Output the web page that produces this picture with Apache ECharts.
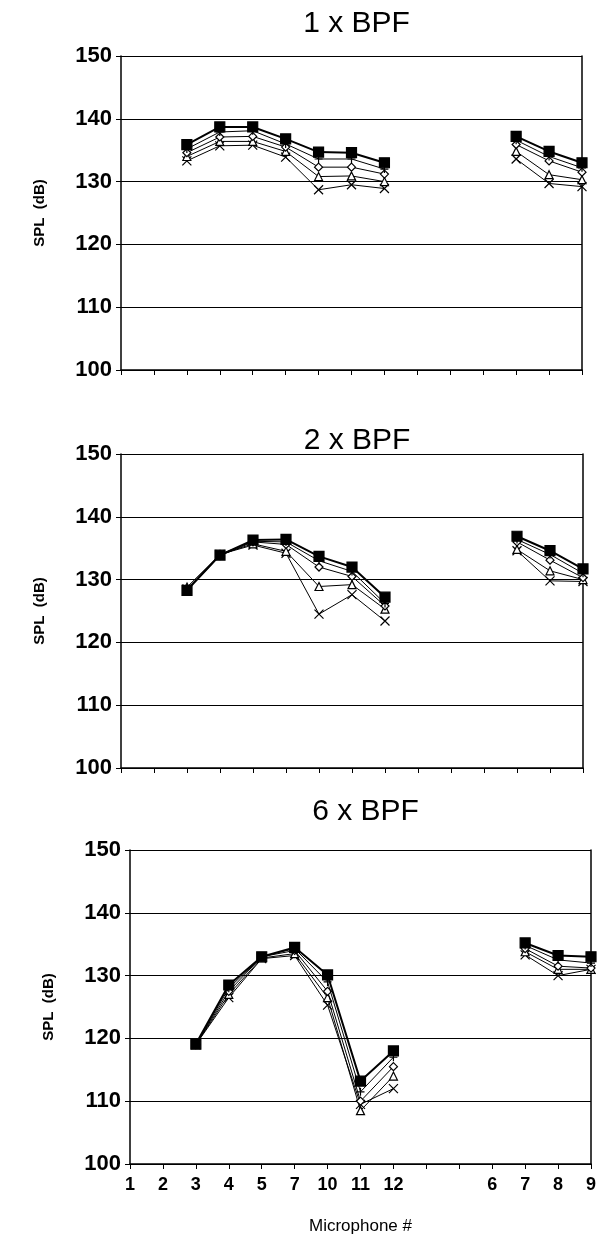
<!DOCTYPE html>
<html>
<head>
<meta charset="utf-8">
<script src="https://cdn.jsdelivr.net/npm/echarts@6/dist/echarts.min.js"></script>
<style>
  html, body { margin: 0; padding: 0; background: #fff; }
  #chart { width: 600px; height: 1237px; }
</style>
</head>
<body>
<div id="chart"></div>
<script>
var categories = ['1', '2', '3', '4', '5', '7', '10', '11', '12', '', '', '6', '7', '8', '9'];
var panelTitles = ['1 x BPF', '2 x BPF', '6 x BPF'];

// SPL (dB), null where there is no microphone reading
var bpf1Square   = [null, null, 135.9, 138.7, 138.7, 136.8, 134.7, 134.6, 133.0, null, null, null, 137.2, 134.8, 133.0];
var bpf1Plus     = [null, null, 135.2, 137.9, 138.1, 136.0, 133.6, 133.6, 132.0, null, null, null, 136.6, 134.0, 132.2];
var bpf1Diamond  = [null, null, 134.6, 137.1, 137.2, 135.5, 132.3, 132.3, 131.2, null, null, null, 135.9, 133.3, 131.5];
var bpf1Triangle = [null, null, 134.0, 136.4, 136.4, 134.8, 130.8, 130.9, 130.0, null, null, null, 134.8, 131.1, 130.3];
var bpf1Cross    = [null, null, 133.3, 135.7, 135.8, 133.9, 128.7, 129.5, 128.9, null, null, null, 133.6, 129.7, 129.2];

var bpf2Square   = [null, null, 128.3, 133.9, 136.3, 136.4, 133.7, 132.0, 127.2, null, null, null, 136.9, 134.6, 131.7];
var bpf2Plus     = [null, null, 128.4, 134.0, 136.1, 136.0, 133.0, 131.3, 126.2, null, null, null, 136.4, 134.0, 131.0];
var bpf2Diamond  = [null, null, 128.3, 133.8, 136.0, 135.6, 132.0, 130.5, 125.8, null, null, null, 136.0, 133.1, 130.3];
var bpf2Triangle = [null, null, 128.8, 134.0, 135.7, 134.5, 128.9, 129.2, 125.3, null, null, null, 134.8, 131.4, 130.0];
var bpf2Cross    = [null, null, 128.5, 134.0, 135.5, 134.2, 124.5, 127.6, 123.4, null, null, null, 134.6, 129.8, 129.7];

var bpf6Square   = [null, null, 119.1, 128.5, 133.0, 134.5, 130.1, 113.2, 118.0, null, null, null, 135.2, 133.2, 133.0];
var bpf6Plus     = [null, null, 119.0, 128.0, 133.0, 134.3, 129.0, 111.5, 117.0, null, null, null, 134.8, 132.5, 132.0];
var bpf6Diamond  = [null, null, 119.0, 127.5, 133.0, 134.0, 127.5, 110.0, 115.5, null, null, null, 134.3, 131.5, 131.2];
var bpf6Triangle = [null, null, 119.0, 127.0, 132.8, 133.5, 126.5, 108.5, 114.0, null, null, null, 133.8, 131.0, 131.0];
var bpf6Cross    = [null, null, 119.0, 126.5, 132.7, 133.2, 125.3, 109.5, 112.0, null, null, null, 133.3, 130.0, 131.0];

var panelData = [
  [bpf1Square, bpf1Plus, bpf1Diamond, bpf1Triangle, bpf1Cross],
  [bpf2Square, bpf2Plus, bpf2Diamond, bpf2Triangle, bpf2Cross],
  [bpf6Square, bpf6Plus, bpf6Diamond, bpf6Triangle, bpf6Cross]
];

var FONT = 'Liberation Sans, Arial, sans-serif';

// marker look for each of the 5 runs
var markers = [
  { symbol: 'rect', size: 10, fill: '#000', width: 2 },
  { symbol: 'path://M5,0L5,10M0,5L10,5', size: 8, fill: '#000', width: 1 },
  { symbol: 'diamond', size: 8, fill: '#fff', width: 1 },
  { symbol: 'triangle', size: 8, fill: '#fff', width: 1 },
  { symbol: 'path://M0,0L10,10M10,0L0,10', size: 9, fill: '#000', width: 1 }
];

// grid boxes (px) for the three panels
var grids = [
  { left: 121, right: 18, top: 56, height: 314 },
  { left: 121, right: 17, top: 454, height: 314 },
  { left: 130, right: 9, top: 850, height: 314 }
];
var titleTops = [4, 421, 792];

var chart = echarts.init(document.getElementById('chart'));

var option = {
  backgroundColor: '#fff',
  animation: false,
  title: [],
  grid: [],
  xAxis: [],
  yAxis: [],
  series: []
};

grids.forEach(function (g, i) {
  option.grid.push({
    left: g.left, right: g.right, top: g.top, height: g.height,
    outerBoundsMode: 'none'
  });
  option.title.push({
    text: panelTitles[i],
    left: g.left + (600 - g.left - g.right) / 2,
    textAlign: 'center',
    top: titleTops[i],
    textStyle: { fontFamily: FONT, fontSize: 30, fontWeight: 'normal', color: '#000' }
  });
  var last = i === 2;
  option.xAxis.push({
    type: 'category',
    gridIndex: i,
    data: categories,
    boundaryGap: false,
    axisLine: { lineStyle: { color: '#000', width: 1.5 } },
    axisTick: { show: true, interval: 0, length: 5, lineStyle: { color: '#000' } },
    axisLabel: {
      show: last, interval: 0, margin: 12,
      fontFamily: FONT, fontSize: 18, fontWeight: 'bold', color: '#000'
    },
    name: last ? 'Microphone #' : '',
    nameLocation: 'middle',
    nameGap: 54,
    nameTextStyle: { fontFamily: FONT, fontSize: 17, color: '#000' },
    splitLine: { show: false }
  });
  option.yAxis.push({
    type: 'value',
    gridIndex: i,
    min: 100, max: 150, interval: 10,
    axisLine: { show: true, lineStyle: { color: '#000', width: 1.5 } },
    axisTick: { show: true, length: 5, lineStyle: { color: '#000' } },
    axisLabel: { margin: 9, fontFamily: FONT, fontSize: 22, fontWeight: 'bold', color: '#000' },
    splitLine: { show: true, lineStyle: { color: '#000', width: 1 } },
    name: 'SPL  (dB)',
    nameLocation: 'middle',
    nameGap: 74,
    nameTextStyle: { fontFamily: FONT, fontSize: 15, fontWeight: 'bold', color: '#000' }
  });
  option.yAxis.push({
    type: 'value',
    gridIndex: i,
    position: 'right',
    min: 100, max: 150, interval: 10,
    axisLine: { show: true, lineStyle: { color: '#000', width: 1.5 } },
    axisTick: { show: false },
    axisLabel: { show: false },
    splitLine: { show: false }
  });
  panelData[i].forEach(function (values, k) {
    var m = markers[k];
    option.series.push({
      type: 'line',
      xAxisIndex: i,
      yAxisIndex: i * 2,
      data: values,
      connectNulls: false,
      symbol: m.symbol,
      symbolSize: m.size,
      showAllSymbol: true,
      lineStyle: { color: '#000', width: m.width },
      itemStyle: { color: m.fill, borderColor: '#000', borderWidth: 1.2 },
      z: 10 - k
    });
  });
});

chart.setOption(option);
</script>
</body>
</html>
